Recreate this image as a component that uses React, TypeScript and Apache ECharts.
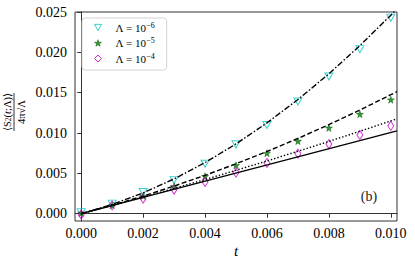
import React, { useEffect, useRef } from "react";
import * as echarts from "echarts";

const tMarks = [0, 0.001, 0.002, 0.003, 0.004, 0.005, 0.006, 0.007, 0.008, 0.009, 0.01];
const lam6 = [0.0002, 0.00125, 0.0027, 0.0042, 0.0062, 0.0086, 0.011, 0.0139, 0.017, 0.0204, 0.0243];
const lam5 = [0.0001, 0.00105, 0.0022, 0.0034, 0.00465, 0.006, 0.0075, 0.009, 0.01064, 0.01234, 0.01413];
const lam4 = [-0.0001, 0.00104, 0.00187, 0.003, 0.00394, 0.0051, 0.0063, 0.00744, 0.00864, 0.00976, 0.01089];

const tCurve = [0, 0.001, 0.002, 0.003, 0.004, 0.005, 0.006, 0.007, 0.008, 0.009, 0.01, 0.0102];
const curveDashDot = [0, 0.00115, 0.00258, 0.00431, 0.00634, 0.00865, 0.01126, 0.01415, 0.01734, 0.02083, 0.0246, 0.0254];
const curveDashed = [0, 0.00105, 0.00219, 0.00343, 0.00476, 0.00619, 0.00771, 0.00933, 0.01104, 0.01285, 0.01475, 0.01514];
const curveDotted = [0, 0.00102, 0.00206, 0.00314, 0.00424, 0.00538, 0.00654, 0.00774, 0.00896, 0.01022, 0.0115, 0.01176];
const tSolid = [0, 0.0102];
const curveSolid = [0, 0.01026];

const xTicks = [0, 0.002, 0.004, 0.006, 0.008, 0.01];
const yTicks = [0, 0.005, 0.01, 0.015, 0.02, 0.025];

const legendNames = ["L6", "L5", "L4"];
const legendExp = { L6: "−6", L5: "−5", L4: "−4" } as Record<string, string>;

const SERIF = "'Liberation Serif', 'DejaVu Serif', serif";
const CYAN = "#00c4c4";
const MAGENTA = "#cc00cc";
const GREEN = "#008000";
const TRI = "path://M0,0 L10,0 L5,9 Z";
const STAR = "path://M50,0 L61,35 L98,35 L68,57 L79,91 L50,70 L21,91 L32,57 L2,35 L39,35 Z";

const zip = (a: number[], b: number[]) => a.map((v, i) => [v, b[i]]);

export default function App() {
  const ref = useRef<HTMLDivElement>(null);
  useEffect(() => {
    if (!ref.current) return;
    const chart = echarts.init(ref.current, null, { renderer: "svg" });
    const lineBase = { type: "line", showSymbol: false, symbol: "none", z: 3, silent: true, clip: true };
    chart.setOption({
      animation: false,
      backgroundColor: "#fff",
      grid: { left: 75, right: 18, top: 12, bottom: 45, show: true, borderColor: "#333", borderWidth: 1 },
      xAxis: {
        type: "value",
        min: -0.0002,
        max: 0.0102,
        splitLine: { show: false },
        axisLine: { show: true, lineStyle: { color: "#333", width: 1 } },
        axisTick: { show: true, length: 4, customValues: xTicks, lineStyle: { color: "#333" } },
        axisLabel: {
          customValues: xTicks,
          margin: 5,
          fontFamily: SERIF,
          fontSize: 14,
          color: "#000",
          formatter: (v: number) => v.toFixed(3),
        },
      },
      yAxis: {
        type: "value",
        min: -0.0009,
        max: 0.025,
        splitLine: { show: false },
        axisLine: { show: true, lineStyle: { color: "#333", width: 1 } },
        axisTick: { show: true, length: 4, customValues: yTicks, lineStyle: { color: "#333" } },
        axisLabel: {
          customValues: yTicks,
          margin: 8,
          fontFamily: SERIF,
          fontSize: 14,
          color: "#000",
          formatter: (v: number) => v.toFixed(3),
        },
      },
      legend: {
        data: [
          { name: "L6", icon: TRI, itemStyle: { color: "transparent", borderColor: CYAN, borderWidth: 1 } },
          { name: "L5", icon: STAR, itemStyle: { color: GREEN, borderColor: "#005000", borderWidth: 0.6 } },
          { name: "L4", icon: "diamond", itemStyle: { color: "transparent", borderColor: MAGENTA, borderWidth: 1 } },
        ],
        orient: "vertical",
        left: 82,
        top: 18,
        padding: [3, 12, 5, 12],
        itemWidth: 7,
        itemHeight: 7,
        itemGap: 2.5,
        borderColor: "#d4d4d4",
        borderWidth: 1,
        borderRadius: 3,
        backgroundColor: "rgba(255,255,255,0.85)",
        formatter: (name: string) => `{a|Λ = 10}{s|${legendExp[name]}}`,
        textStyle: {
          fontFamily: SERIF,
          color: "#000",
          rich: {
            a: { fontFamily: SERIF, fontSize: 11, lineHeight: 14, padding: [0, 0, 0, 9] },
            s: { fontFamily: SERIF, fontSize: 8, lineHeight: 14, padding: [0, 0, 5, 0] },
          },
        },
      },
      series: [
        { ...lineBase, name: "c6", data: zip(tCurve, curveDashDot), lineStyle: { color: "#000", width: 1.4, type: [6, 2, 1.5, 2] } },
        { ...lineBase, name: "c5", data: zip(tCurve, curveDashed), lineStyle: { color: "#000", width: 1.4, type: [5, 2.5] } },
        { ...lineBase, name: "c4", data: zip(tCurve, curveDotted), lineStyle: { color: "#000", width: 1.4, type: [1.4, 2] } },
        { ...lineBase, name: "c0", data: zip(tSolid, curveSolid), lineStyle: { color: "#000", width: 1.3 } },
        {
          type: "scatter",
          name: "L6",
          z: 2,
          data: zip(tMarks, lam6),
          symbol: TRI,
          symbolSize: [8, 7],
          itemStyle: { color: "transparent", borderColor: CYAN, borderWidth: 1 },
        },
        {
          type: "scatter",
          name: "L5",
          z: 2,
          data: zip(tMarks, lam5),
          symbol: STAR,
          symbolSize: 7,
          itemStyle: { color: GREEN, borderColor: "#005000", borderWidth: 0.6 },
        },
        {
          type: "scatter",
          name: "L4",
          z: 2,
          data: zip(tMarks, lam4),
          symbol: "diamond",
          symbolSize: [6, 9],
          itemStyle: { color: "transparent", borderColor: MAGENTA, borderWidth: 1 },
        },
      ],
      graphic: [
        {
          type: "group",
          x: 14,
          y: 112,
          rotation: Math.PI / 2,
          children: [
            {
              type: "text",
              x: 0,
              y: -1.5,
              style: {
                text: "{a|⟨S}{b|2}{a|(}{i|t}{a|;Λ)⟩}",
                align: "center",
                verticalAlign: "bottom",
                fill: "#000",
                rich: {
                  a: { fontFamily: SERIF, fontSize: 10.5, fill: "#000", lineHeight: 11 },
                  b: { fontFamily: SERIF, fontSize: 7.5, fill: "#000", lineHeight: 11, padding: [3, 0, 0, 0] },
                  i: { fontFamily: SERIF, fontSize: 10.5, fontStyle: "italic", fill: "#000", lineHeight: 11 },
                },
              },
            },
            { type: "line", shape: { x1: -19, y1: 0, x2: 19, y2: 0 }, style: { stroke: "#000", lineWidth: 0.8 } },
            {
              type: "text",
              x: 0,
              y: 1.5,
              style: {
                text: "4π√Λ",
                align: "center",
                verticalAlign: "top",
                fill: "#000",
                fontFamily: SERIF,
                fontSize: 10.5,
              },
            },
          ],
        },
        {
          type: "text",
          x: 236,
          y: 251,
          style: { text: "t", align: "center", verticalAlign: "middle", fontFamily: SERIF, fontStyle: "italic", fontSize: 15, fill: "#000" },
        },
        {
          type: "text",
          x: 369,
          y: 196,
          style: { text: "(b)", align: "center", verticalAlign: "middle", fontFamily: SERIF, fontSize: 14, fill: "#222" },
        },
      ],
    });
    return () => chart.dispose();
  }, []);
  return <div ref={ref} style={{ width: 415, height: 266, position: "absolute", left: 0, top: 0 }} />;
}
